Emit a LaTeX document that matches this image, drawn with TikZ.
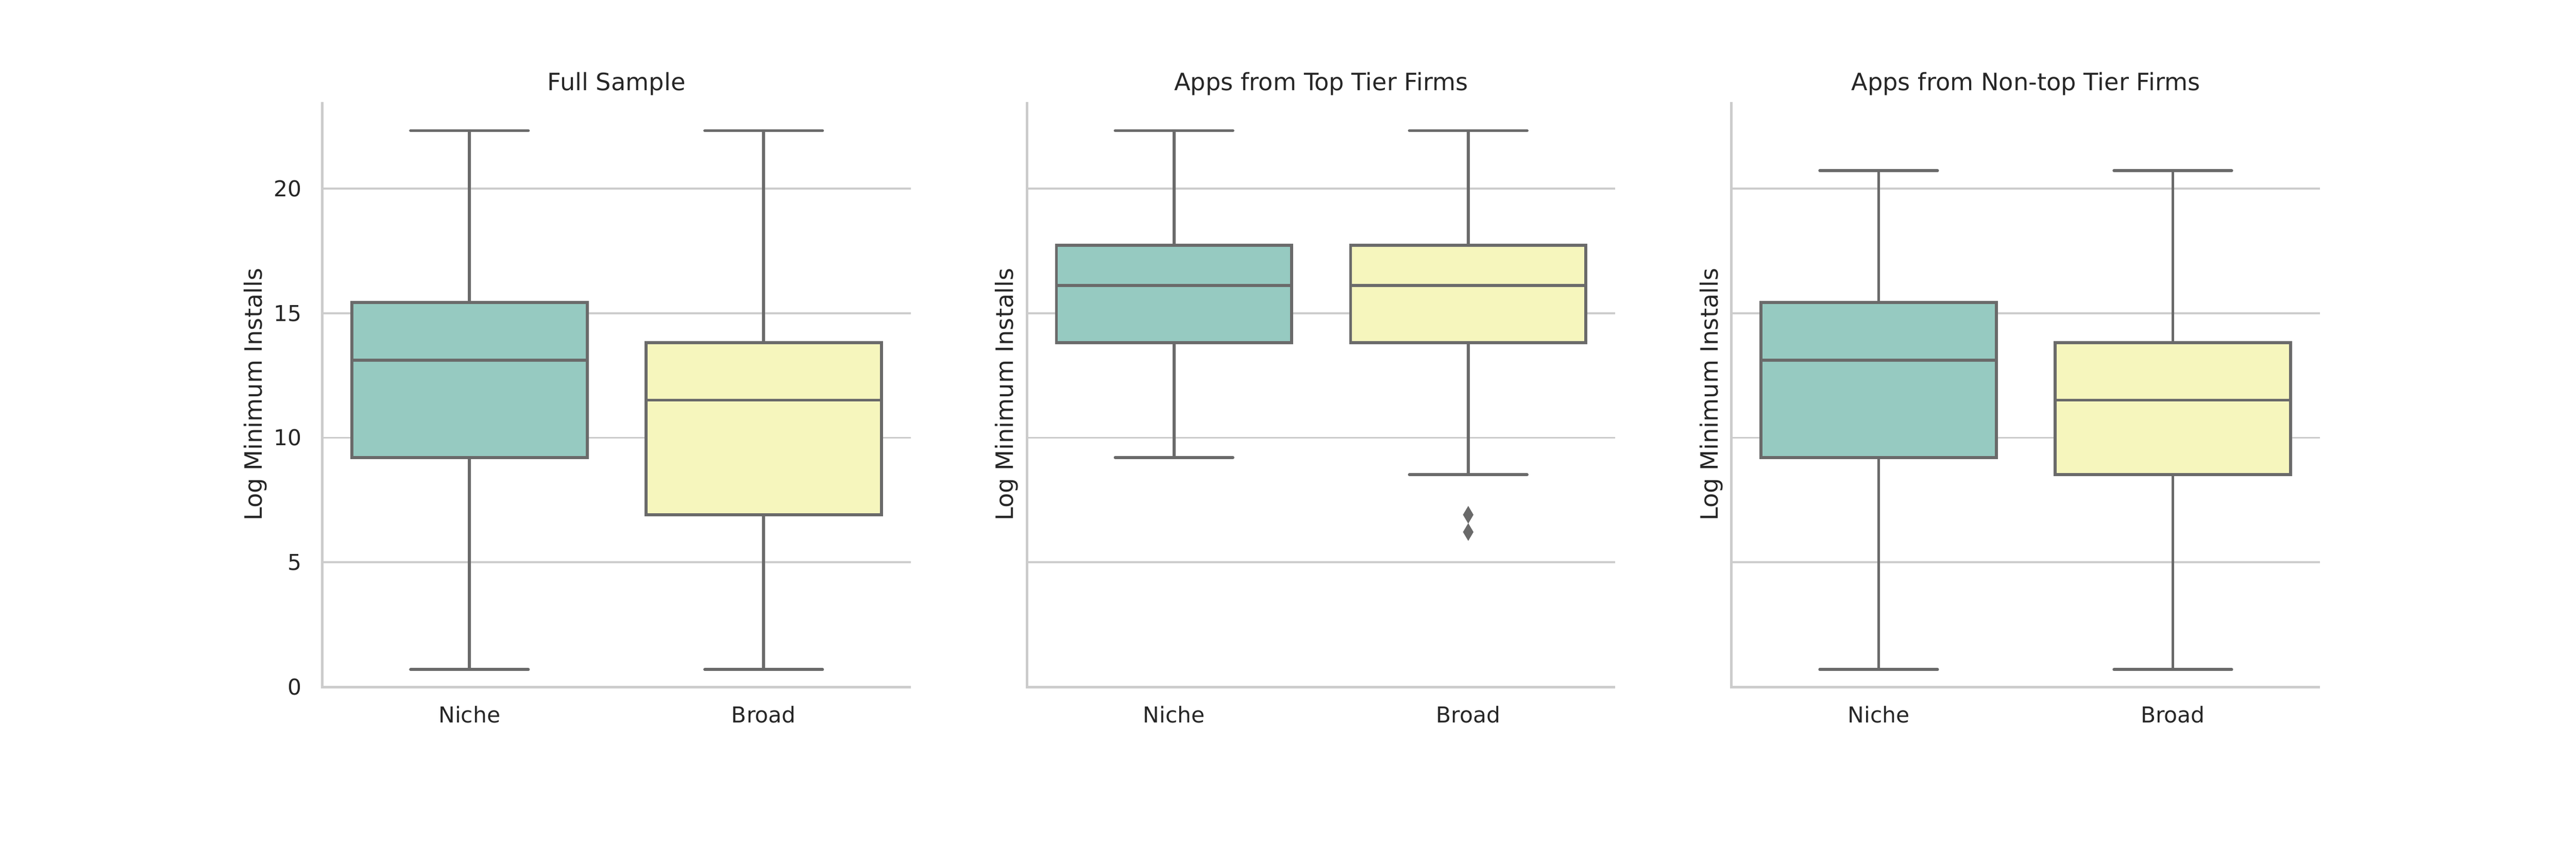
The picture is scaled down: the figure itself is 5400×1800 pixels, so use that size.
\documentclass[tikz,border=0pt]{standalone}
\usepackage{fontspec}
\setmainfont{DejaVu Sans}
\definecolor{txtc}{RGB}{38,38,38}
\definecolor{gridc}{RGB}{204,204,204}
\definecolor{linec}{RGB}{106,106,106}
\definecolor{boxa}{RGB}{150,202,193}
\definecolor{boxb}{RGB}{246,246,189}
\newcommand{\Yv}[1]{(1439.5-52.2*(#1))}
\newcommand{\bxp}[7]{%
  \draw[whisk] ({#1},{\Yv{#4}}) -- ({#1},{\Yv{#3}});
  \draw[capl] ({#1-123.35},{\Yv{#3}}) -- ({#1+123.35},{\Yv{#3}});
  \draw[whisk] ({#1},{\Yv{#6}}) -- ({#1},{\Yv{#7}});
  \draw[capl] ({#1-123.35},{\Yv{#7}}) -- ({#1+123.35},{\Yv{#7}});
  \draw[boxl, fill=#2] ({#1-246.7},{\Yv{#4}}) rectangle ({#1+246.7},{\Yv{#6}});
  \draw[boxl] ({#1-246.7},{\Yv{#5}}) -- ({#1+246.7},{\Yv{#5}});
}
\newcommand{\flier}[2]{%
  \fill[linec] ({#1},{\Yv{#2}-18.5}) -- ({#1+11},{\Yv{#2}}) -- ({#1},{\Yv{#2}+18.5}) -- ({#1-11},{\Yv{#2}}) -- cycle;
}
\newcommand{\panelax}[5]{% #1 x0, #2 title, #3 name, #4 ylabel x
  \foreach \v in {5,10,15,20} {
    \draw[gridl] ({#1},{\Yv{\v}}) -- ({#1+1233.5},{\Yv{\v}});
  }
  \draw[spinel] ({#1},214) -- ({#1},1440.5) -- ({#1+1233.5},1440.5);
  \node[ttl] (title#3) at ({#1+616.75},190) {#2};
  \node[xtl] (niche#3) at ({#1+308.4},1515) {Niche};
  \node[xtl] (broad#3) at ({#1+925.1},1515) {Broad};
  \node[ylab] (ylab#3) at ({#4},827) {Log Minimum Installs};
}
\begin{document}
\begin{tikzpicture}[x=0.24bp, y=-0.24bp,
  whisk/.style={draw=linec, line width=1.5bp, line cap=butt},
  capl/.style={draw=linec, line width=1.5bp, line cap=round},
  boxl/.style={draw=linec, line width=1.5bp, line join=miter},
  gridl/.style={draw=gridc, line width=1bp},
  spinel/.style={draw=gridc, line width=1.25bp, line join=miter},
  ttl/.style={anchor=base, inner sep=0pt, text=txtc, font=\fontsize{12bp}{14bp}\selectfont},
  xtl/.style={anchor=base, inner sep=0pt, text=txtc, font=\fontsize{11bp}{13bp}\selectfont},
  ytl/.style={anchor=base east, inner sep=0pt, text=txtc, font=\fontsize{11bp}{13bp}\selectfont},
  ylab/.style={anchor=base, rotate=90, inner sep=0pt, text=txtc, font=\fontsize{12bp}{14bp}\selectfont}]
\useasboundingbox[fill=white] (0,0) rectangle (5400,1800);
% Panel 1
\panelax{675.7}{Full Sample}{A}{549.3}{}
\foreach \v/\n in {0/y0,5/y5,10/y10,15/y15,20/y20} {
  \node[ytl] (\n) at (633,{\Yv{\v}+16.7}) {\v};
}
\bxp{984.1}{boxa}{0.693}{9.21}{13.122}{15.425}{22.33}
\bxp{1600.8}{boxb}{0.693}{6.908}{11.513}{13.816}{22.33}
% Panel 2
\panelax{2152.7}{Apps from Top Tier Firms}{B}{2124.3}{}
\bxp{2461.1}{boxa}{9.21}{13.816}{16.118}{17.728}{22.33}
\bxp{3077.8}{boxb}{8.517}{13.816}{16.118}{17.728}{22.33}
\flier{3077.8}{6.908}
\flier{3077.8}{6.215}
% Panel 3
\panelax{3629.7}{Apps from Non-top Tier Firms}{C}{3601.3}{}
\bxp{3938.1}{boxa}{0.693}{9.21}{13.122}{15.425}{20.723}
\bxp{4554.8}{boxb}{0.693}{8.517}{11.513}{13.816}{20.723}
\end{tikzpicture}
\end{document}
